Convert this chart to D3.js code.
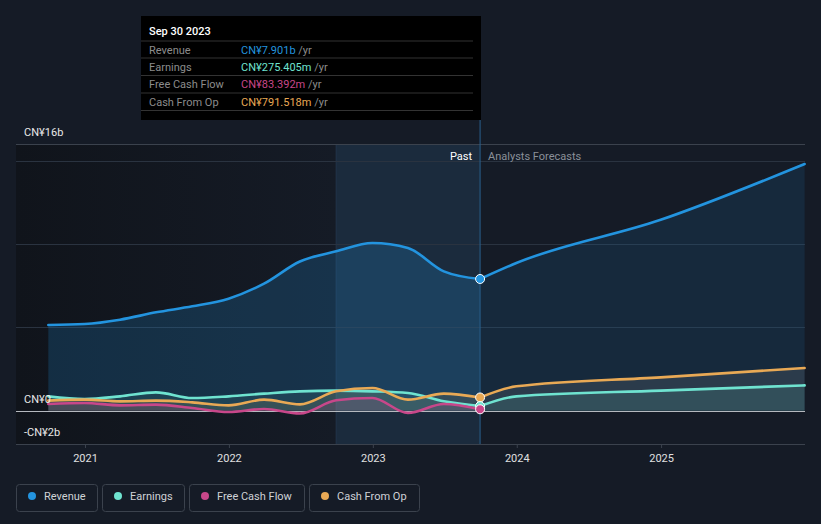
<!DOCTYPE html>
<html><head><meta charset="utf-8">
<script src="https://cdn.jsdelivr.net/npm/d3@7"></script>
<style>
html,body{margin:0;padding:0;background:#151b26;}
svg{display:block;font-family:Roboto,"Noto Sans",sans-serif;}
</style></head>
<body><svg id="c" width="821" height="524"></svg>
<script>
const pastDates = ["2020-09-30","2020-12-31","2021-03-31","2021-06-30","2021-09-30","2021-12-31","2022-03-31","2022-06-30","2022-09-30","2022-12-31","2023-03-31","2023-06-30","2023-09-30"];
const revenuePast  = [5.14,5.2,5.46,5.9,6.26,6.72,7.62,8.95,9.56,10.06,9.76,8.36,7.901];
const earningsPast = [0.86,0.7,0.86,1.1,0.76,0.86,1.02,1.16,1.2,1.16,1.06,0.56,0.275];
const fcfPast      = [0.4,0.46,0.32,0.36,0.16,-0.08,0.1,-0.17,0.62,0.76,-0.14,0.4,0.083];
const cfoPast      = [0.6,0.66,0.56,0.6,0.5,0.32,0.66,0.38,1.16,1.36,0.66,1.02,0.7915];

const fcDates = ["2023-09-30","2023-12-31","2024-12-31","2025-12-31"];
const revenueFc  = [7.901,8.86,11.45,14.8];
const earningsFc = [0.275,0.86,1.2,1.52];
const cfoFc      = [0.7915,1.46,2.0,2.56];

const yTicks = [-2,0,5,10,15,16];
const yLabels = [{v:16,t:"CN¥16b"},{v:0,t:"CN¥0"},{v:-2,t:"-CN¥2b"}];
const xTickYears = [2021,2022,2023,2024,2025];

const seriesNames = ["Revenue","Earnings","Free Cash Flow","Cash From Op"];
const seriesColors = ["#2394df","#6fe3d0","#c8478a","#e9a955"];
const tooltipDate = "Sep 30 2023";
const tooltipValues = ["CN¥7.901b","CN¥275.405m","CN¥83.392m","CN¥791.518m"];

const parse = d3.timeParse("%Y-%m-%d");
const svg = d3.select("#c");
const W=821,H=524;
const L=16,R=805,T=144,B=444;
const x = d3.scaleTime().domain([parse("2020-01-01"),parse("2026-01-01")]).range([-59,805]);
// calibrate: 2021-01-01 -> 85, one year -> 144px
x.domain([parse("2021-01-01"),parse("2026-01-01")]).range([85,85+144*5]);
const y = d3.scaleLinear().domain([-2,16]).range([B,T]);

const defs = svg.append("defs");
const bg = defs.append("linearGradient").attr("id","bgG").attr("x1",0).attr("x2",1);
bg.append("stop").attr("offset",0).attr("stop-color","#10141b");
bg.append("stop").attr("offset",1).attr("stop-color","#151b26");
defs.append("clipPath").attr("id","pastClip").append("rect").attr("x",0).attr("y",0).attr("width",x(parse("2023-09-30"))).attr("height",H);
defs.append("clipPath").attr("id","fcClip").append("rect").attr("x",x(parse("2023-09-30"))).attr("y",0).attr("width",W).attr("height",H);

svg.append("rect").attr("width",W).attr("height",H).attr("fill","#151b26");
svg.append("rect").attr("x",L).attr("y",T).attr("width",x(parse("2022-09-30"))-L).attr("height",B-T).attr("fill","url(#bgG)");
// highlighted last year band
const hx0 = x(parse("2022-09-30")), hx1 = x(parse("2023-09-30"));
svg.append("rect").attr("x",hx0).attr("y",T).attr("width",hx1-hx0).attr("height",B-T).attr("fill","#1b2b3d");
svg.append("line").attr("x1",hx0).attr("x2",hx0).attr("y1",T).attr("y2",B).attr("stroke","#22344a").attr("stroke-width",1);

// grid
svg.append("g").selectAll("line").data(yTicks).join("line")
  .attr("x1",L).attr("x2",R).attr("y1",d=>Math.round(y(d))+0.5).attr("y2",d=>Math.round(y(d))+0.5)
  .attr("stroke",d=>d===0?"#b5b9bf":(d===16||d===-2?"#3b424d":"#2a3340")).attr("stroke-width",d=>d===0?1.2:1);

const pts = (dates,vals)=>dates.map((d,i)=>({d:parse(d),v:vals[i]}));
const curve = d3.curveMonotoneX;
const area = d3.area().x(p=>x(p.d)).y0(y(0)).y1(p=>y(p.v)).curve(curve);
const line = d3.line().x(p=>x(p.d)).y(p=>y(p.v)).curve(curve);

const rev = pts(pastDates,revenuePast), revF = pts(fcDates,revenueFc);
const ear = pts(pastDates,earningsPast), earF = pts(fcDates,earningsFc);
const fcf = pts(pastDates,fcfPast);
const cfo = pts(pastDates,cfoPast), cfoF = pts(fcDates,cfoFc);

// areas
svg.append("path").attr("d",area(rev)).attr("fill","#2394df").attr("opacity",0.2);
svg.append("path").attr("d",area(revF)).attr("fill","#2394df").attr("opacity",0.12);
svg.append("path").attr("d",area(cfo)).attr("fill","#e9a955").attr("opacity",0.12);
svg.append("path").attr("d",area(cfoF)).attr("fill","#9a9a9a").attr("opacity",0.16);
svg.append("path").attr("d",area(ear)).attr("fill","#6fe3d0").attr("opacity",0.1);
svg.append("path").attr("d",area(earF)).attr("fill","#6fe3d0").attr("opacity",0.12);
svg.append("path").attr("d",area(fcf)).attr("fill","#c8478a").attr("opacity",0.15);

// past/forecast divider
svg.append("line").attr("x1",hx1).attr("x2",hx1).attr("y1",120).attr("y2",B).attr("stroke","#2a5f8c").attr("stroke-width",1);

// lines
const drawLine=(p,c)=>svg.append("path").attr("d",line(p)).attr("fill","none").attr("stroke",c).attr("stroke-width",2.6).attr("stroke-linecap","round");
drawLine(ear,seriesColors[1]); drawLine(earF,seriesColors[1]);
drawLine(cfo,seriesColors[3]); drawLine(cfoF,seriesColors[3]);
drawLine(fcf,seriesColors[2]);
drawLine(rev,seriesColors[0]); drawLine(revF,seriesColors[0]);

// markers
const lastVals = [revenuePast[12],earningsPast[12],fcfPast[12],cfoPast[12]];
[3,1,2,0].forEach(i=>{
  svg.append("circle").attr("cx",hx1).attr("cy",y(lastVals[i])).attr("r",4.5)
    .attr("fill",seriesColors[i]).attr("stroke","#fff").attr("stroke-width",1);
});

// labels Past / Forecast
svg.append("text").attr("x",hx1-8).attr("y",160).attr("text-anchor","end").attr("fill","#ffffff").attr("font-size",11).text("Past");
svg.append("text").attr("x",hx1+8).attr("y",160).attr("fill","#8a9099").attr("font-size",11).text("Analysts Forecasts");

// y labels
svg.append("g").selectAll("text").data(yLabels).join("text")
  .attr("x",24).attr("y",d=>y(d.v)-8).attr("fill","#e8e8e8").attr("font-size",11).text(d=>d.t);

// x axis
const xa = svg.append("g").attr("transform",`translate(0,${B})`)
  .call(d3.axisBottom(x).tickValues(xTickYears.map(yr=>new Date(yr,0,1))).tickFormat(d3.timeFormat("%Y")).tickSize(4).tickPadding(6));
xa.select(".domain").remove();
xa.selectAll("line").attr("stroke","#3b424d");
xa.selectAll("text").attr("fill","#e0e0e0").attr("font-size",11).attr("font-family","Roboto,sans-serif");
svg.append("line").attr("x1",L).attr("x2",R).attr("y1",B+0.5).attr("y2",B+0.5).attr("stroke","#3b424d");

// tooltip
const tt = svg.append("g");
tt.append("rect").attr("x",141).attr("y",16).attr("width",340).attr("height",104).attr("fill","#000");
tt.append("text").attr("x",149).attr("y",35).attr("fill","#fff").attr("font-size",11).attr("font-weight",500).text(tooltipDate);
const rowY=[41,58,75.5,93,110.5];
rowY.forEach(v=>tt.append("line").attr("x1",141).attr("x2",473).attr("y1",v).attr("y2",v).attr("stroke","#333"));
seriesNames.forEach((n,i)=>{
  const cy = rowY[i]+8.5+4;
  tt.append("text").attr("x",149).attr("y",cy).attr("fill","#8c8c8c").attr("font-size",11).text(n);
  const t = tt.append("text").attr("x",241).attr("y",cy).attr("font-size",11);
  t.append("tspan").attr("fill",seriesColors[i]).text(tooltipValues[i]);
  t.append("tspan").attr("fill","#8c8c8c").text(" /yr");
});

// legend
const lg = svg.append("g");
const boxes=[[16,81],[102,82],[189,115],[309,110]];
seriesNames.forEach((n,i)=>{
  const [bx,bw]=boxes[i];
  lg.append("rect").attr("x",bx+0.5).attr("y",484.5).attr("width",bw).attr("height",27).attr("rx",3).attr("fill","none").attr("stroke","#3b424d");
  lg.append("circle").attr("cx",bx+16).attr("cy",496).attr("r",4).attr("fill",seriesColors[i]);
  lg.append("text").attr("x",bx+28).attr("y",500).attr("fill","#cfd2d6").attr("font-size",11).text(n);
});
</script></body></html>
